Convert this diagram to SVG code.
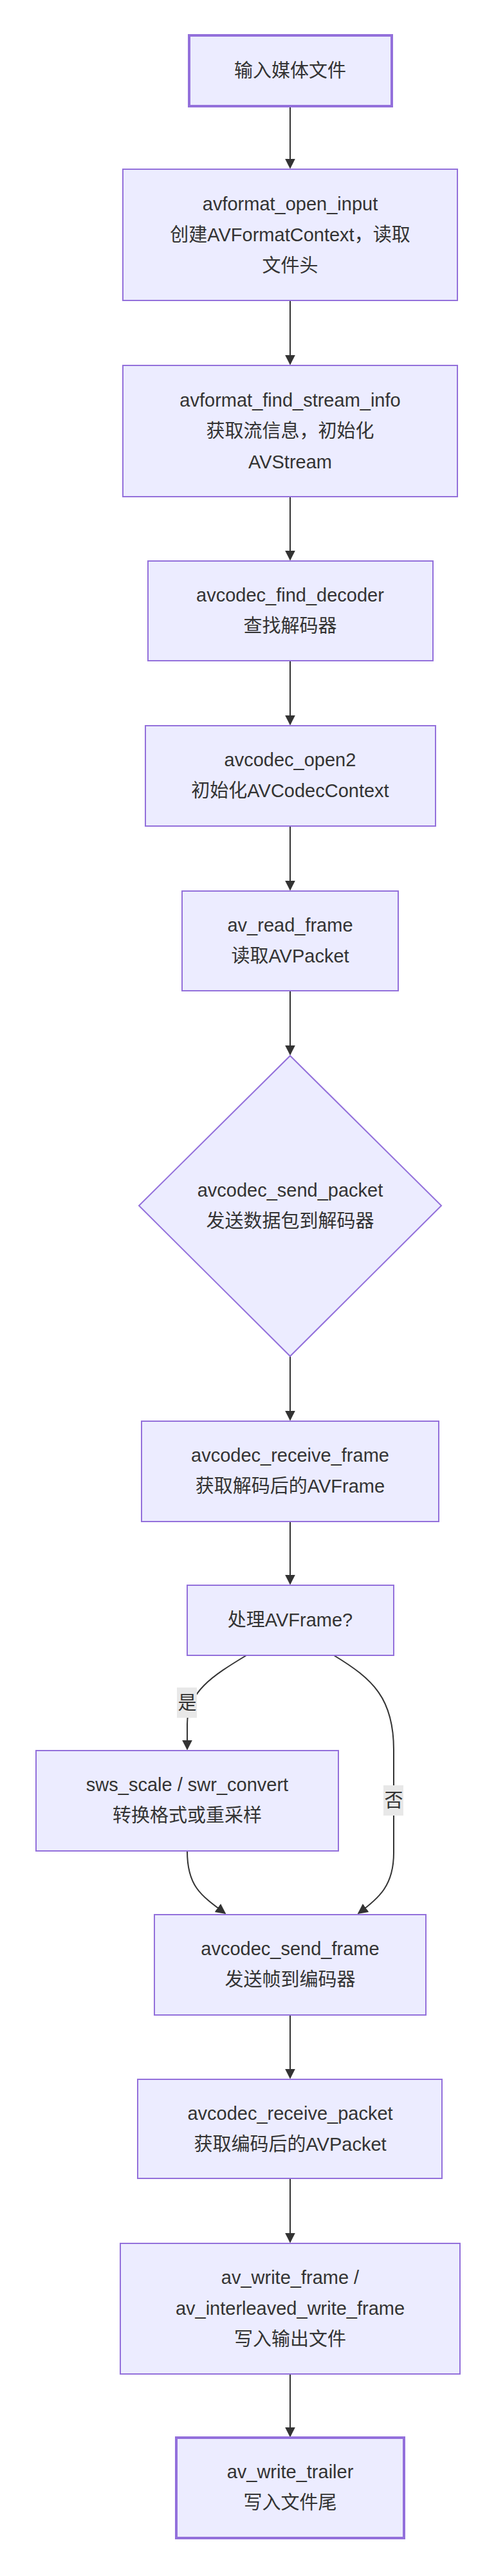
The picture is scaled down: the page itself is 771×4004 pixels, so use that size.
<svg xmlns="http://www.w3.org/2000/svg" width="771" height="4004" viewBox="0 0 771 4004">
<style>
.n{fill:#ECECFF;stroke:#9370DB;stroke-width:2}
.t{stroke-width:4}
.l{fill:none;stroke:#333;stroke-width:2}
text{font-family:"Liberation Sans","Noto Sans CJK SC",sans-serif;font-size:29px;fill:#333;text-anchor:middle}
.lb{fill:#e8e8e8}
</style>
<defs><marker id="a" viewBox="0 0 10 10" refX="9" refY="5" markerWidth="8" markerHeight="8" orient="auto"><path d="M0,0L10,5L0,10z" fill="#333"/></marker></defs>
<rect width="771" height="4004" fill="#fff"/>
<g id="edges">
<path class="l" d="M451,165V261" marker-end="url(#a)"/>
<path class="l" d="M451,467V566" marker-end="url(#a)"/>
<path class="l" d="M451,772V870" marker-end="url(#a)"/>
<path class="l" d="M451,1027V1126" marker-end="url(#a)"/>
<path class="l" d="M451,1284V1383" marker-end="url(#a)"/>
<path class="l" d="M451,1540V1639" marker-end="url(#a)"/>
<path class="l" d="M451,2108V2207" marker-end="url(#a)"/>
<path class="l" d="M451,2365V2462" marker-end="url(#a)"/>
<path class="l" d="M383,2573C330,2605 291,2630 291,2680V2719" marker-end="url(#a)"/>
<path class="l" d="M519,2573C580,2610 612,2640 612,2720V2880C612,2930 590,2950 557,2974" marker-end="url(#a)"/>
<path class="l" d="M291,2877C291,2930 310,2945 350,2974" marker-end="url(#a)"/>
<path class="l" d="M451,3132V3230" marker-end="url(#a)"/>
<path class="l" d="M451,3386V3485" marker-end="url(#a)"/>
<path class="l" d="M451,3690V3787" marker-end="url(#a)"/>
<rect class="lb" x="275" y="2623" width="31" height="47"/><text x="291" y="2657">是</text>
<rect class="lb" x="596" y="2775" width="31" height="47"/><text x="612" y="2809">否</text>
</g>
<g id="n1"><rect class="n t" x="294" y="55" width="315" height="110"/><text x="451" y="120">输入媒体文件</text></g>
<g id="n2"><rect class="n" x="191" y="263" width="520" height="204"/><text x="451" y="327">avformat_open_input</text><text x="451" y="375">创建AVFormatContext，读取</text><text x="451" y="423">文件头</text></g>
<g id="n3"><rect class="n" x="191" y="568" width="520" height="204"/><text x="451" y="632">avformat_find_stream_info</text><text x="451" y="680">获取流信息，初始化</text><text x="451" y="728">AVStream</text></g>
<g id="n4"><rect class="n" x="230" y="872" width="443" height="155"/><text x="451" y="935">avcodec_find_decoder</text><text x="451" y="983">查找解码器</text></g>
<g id="n5"><rect class="n" x="226" y="1128" width="451" height="156"/><text x="451" y="1191">avcodec_open2</text><text x="451" y="1239">初始化AVCodecContext</text></g>
<g id="n6"><rect class="n" x="283" y="1385" width="336" height="155"/><text x="451" y="1448">av_read_frame</text><text x="451" y="1496">读取AVPacket</text></g>
<g id="n7"><polygon class="n" points="451,1641 686,1874 451,2108 216,1874"/><text x="451" y="1860">avcodec_send_packet</text><text x="451" y="1908">发送数据包到解码器</text></g>
<g id="n8"><rect class="n" x="220" y="2209" width="462" height="156"/><text x="451" y="2272">avcodec_receive_frame</text><text x="451" y="2320">获取解码后的AVFrame</text></g>
<g id="n9"><rect class="n" x="291" y="2464" width="321" height="109"/><text x="451" y="2528">处理AVFrame?</text></g>
<g id="n10"><rect class="n" x="56" y="2721" width="470" height="156"/><text x="291" y="2784">sws_scale / swr_convert</text><text x="291" y="2832">转换格式或重采样</text></g>
<g id="n11"><rect class="n" x="240" y="2976" width="422" height="156"/><text x="451" y="3039">avcodec_send_frame</text><text x="451" y="3087">发送帧到编码器</text></g>
<g id="n12"><rect class="n" x="214" y="3232" width="473" height="154"/><text x="451" y="3295">avcodec_receive_packet</text><text x="451" y="3343">获取编码后的AVPacket</text></g>
<g id="n13"><rect class="n" x="187" y="3487" width="528" height="203"/><text x="451" y="3550">av_write_frame /</text><text x="451" y="3598">av_interleaved_write_frame</text><text x="451" y="3646">写入输出文件</text></g>
<g id="n14"><rect class="n t" x="274" y="3789" width="354" height="156"/><text x="451" y="3852">av_write_trailer</text><text x="451" y="3900">写入文件尾</text></g>
</svg>
